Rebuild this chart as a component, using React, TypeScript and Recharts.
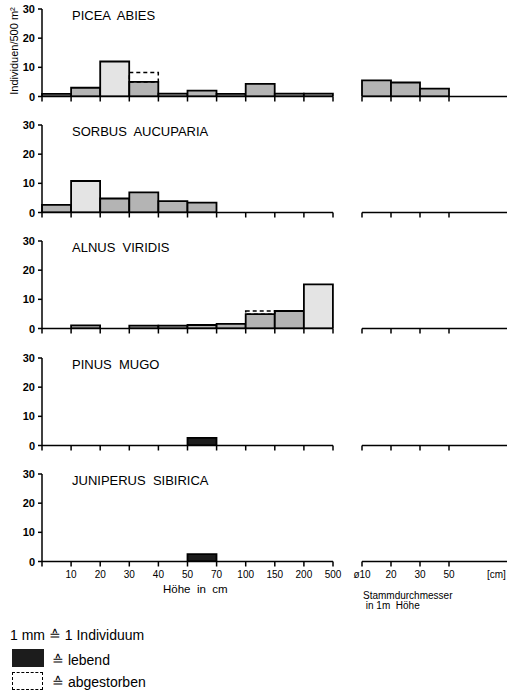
import React from 'react';
import { BarChart, Bar, XAxis, YAxis, Cell } from 'recharts';

// height classes (cm) and diameter classes (cm, 1 m above ground)
const HEIGHT_BINS = ['0-10', '10-20', '20-30', '30-40', '40-50', '50-70', '70-100', '100-150', '150-200', '200-500'];
const HEIGHT_LABELS = ['10', '20', '30', '40', '50', '70', '100', '150', '200', '500'];
const DIAM_BINS = ['10-20', '20-30', '30-50', '50-', 'rest'];
const DIAM_LABELS = ['ø10', '20', '30', '50'];
const Y_TICKS = [0, 10, 20, 30];

// individuals / 500 m²
const piceaLive = [0.9, 3, 12, 5, 1, 2, 0.9, 4.3, 1, 1];
const piceaDead = [0, 0, 0, 3.2, 0, 0, 0, 0, 0, 0];
const piceaDiam = [5.5, 4.8, 2.7, 0, 0];

const sorbusLive = [2.6, 10.8, 4.8, 6.9, 3.9, 3.4, 0, 0, 0, 0];
const sorbusDead = [0, 0, 0, 0, 0, 0, 0, 0, 0, 0];
const sorbusDiam = [0, 0, 0, 0, 0];

const alnusLive = [0, 1.1, 0, 1, 1, 1.2, 1.6, 4.9, 6, 15.1];
const alnusDead = [0, 0, 0, 0, 0, 0, 0, 1.1, 0, 0];
const alnusDiam = [0, 0, 0, 0, 0];

const pinusLive = [0, 0, 0, 0, 0, 2.6, 0, 0, 0, 0];
const pinusDead = [0, 0, 0, 0, 0, 0, 0, 0, 0, 0];
const pinusDiam = [0, 0, 0, 0, 0];

const juniperusLive = [0, 0, 0, 0, 0, 2.5, 0, 0, 0, 0];
const juniperusDead = [0, 0, 0, 0, 0, 0, 0, 0, 0, 0];
const juniperusDiam = [0, 0, 0, 0, 0];

const FONT = '"Liberation Sans", Arial, sans-serif';
const MT = 8;
const PLOT_H = 87.5;
const XH = 30;
const STEP = 116.4;
const BAND = 29.1;

const fillFor = (v: number, dark: boolean) => (dark ? '#1c1c1c' : v >= 8 ? '#e4e4e4' : '#b4b4b4');

const Mark = ({ x, y, label }: { x: number; y: number; label?: string }) => (
  <g>
    <line x1={x} x2={x} y1={y} y2={y + 5} stroke="#000" strokeWidth={1.5} />
    {label ? (
      <text x={x} y={y + 16} textAnchor="middle" fontSize={10} fontFamily={FONT} fill="#000">{label}</text>
    ) : null}
  </g>
);

// height axis: class boundaries sit on the right edge of each band
const makeHeightTick = (show: boolean) => (props: any) => {
  const { x, y, payload } = props;
  const half = payload.offset || BAND / 2;
  const i = payload.index;
  return (
    <g>
      {i === 0 ? <Mark x={x - half} y={y} /> : null}
      <Mark x={x + half} y={y} label={show ? HEIGHT_LABELS[i] : undefined} />
    </g>
  );
};

// diameter axis: boundaries on the left edge of the first four bands
const makeDiamTick = (show: boolean) => (props: any) => {
  const { x, y, payload } = props;
  const half = payload.offset || BAND / 2;
  const i = payload.index;
  if (i > 3) return <g />;
  return <Mark x={x - half} y={y} label={show ? DIAM_LABELS[i] : undefined} />;
};

const YTick = (props: any) => {
  const { x, y, payload } = props;
  return (
    <g>
      <line x1={x - 4} x2={x} y1={y} y2={y} stroke="#000" strokeWidth={1.5} />
      <text x={x - 7} y={y + 4} textAnchor="end" fontSize={11} fontWeight="bold" fontFamily={FONT} fill="#000">
        {payload.value}
      </text>
    </g>
  );
};

interface PanelProps {
  index: number;
  title: string;
  live: number[];
  dead: number[];
  diam: number[];
  dark?: boolean;
  last?: boolean;
}

function Panel({ index, title, live, dead, diam, dark = false, last = false }: PanelProps) {
  const top = 8.5 + index * STEP - MT;
  const rows = HEIGHT_BINS.map((bin, i) => ({ bin, live: live[i], dead: dead[i] }));
  const diamRows = DIAM_BINS.map((bin, i) => ({ bin, live: diam[i] }));
  const axisStyle = { stroke: '#000', strokeWidth: 1.5 };

  return (
    <>
      <div style={{ position: 'absolute', left: 0, top, width: 350, height: MT + PLOT_H + XH }}>
        <BarChart width={350} height={MT + PLOT_H + XH} data={rows}
          margin={{ top: MT, right: 17, bottom: 0, left: 0 }} barCategoryGap={0}>
          <XAxis dataKey="bin" height={XH} interval={0} axisLine={axisStyle} tickLine={false}
            tickSize={0} tickMargin={0} tick={makeHeightTick(last)} />
          <YAxis domain={[0, 30]} ticks={Y_TICKS} width={42} interval={0} axisLine={axisStyle} tickLine={false}
            tickSize={0} tickMargin={0} allowDataOverflow tick={YTick} />
          <Bar dataKey="live" stackId="s" stroke="#000" strokeWidth={1.8} isAnimationActive={false}>
            {rows.map((r, i) => <Cell key={i} fill={fillFor(r.live, dark)} />)}
          </Bar>
          <Bar dataKey="dead" stackId="s" fill="none" stroke="#000" strokeWidth={1.5}
            strokeDasharray="4 3" isAnimationActive={false} />
        </BarChart>
      </div>
      <div style={{ position: 'absolute', left: 340, top, width: 170, height: MT + PLOT_H + XH }}>
        <BarChart width={170} height={MT + PLOT_H + XH} data={diamRows}
          margin={{ top: MT, right: 3, bottom: 0, left: 22 }} barCategoryGap={0}>
          <XAxis dataKey="bin" height={XH} interval={0} axisLine={axisStyle} tickLine={false}
            tickSize={0} tickMargin={0} tick={makeDiamTick(last)} />
          <YAxis domain={[0, 30]} hide width={0} allowDataOverflow />
          <Bar dataKey="live" stroke="#000" strokeWidth={1.8} isAnimationActive={false}>
            {diamRows.map((r, i) => <Cell key={i} fill={fillFor(r.live, dark)} />)}
          </Bar>
        </BarChart>
      </div>
      <div style={{ position: 'absolute', left: 72, top: top + MT - 1, fontSize: 13, fontFamily: FONT, whiteSpace: 'pre', color: '#000' }}>
        {title}
      </div>
    </>
  );
}

export default function App() {
  const text = { position: 'absolute' as const, fontFamily: FONT, color: '#000', whiteSpace: 'pre' as const };
  return (
    <div style={{ position: 'absolute', left: 0, top: 0, width: 508, height: 694, background: '#fff', overflow: 'hidden' }}>
      <Panel index={0} title="PICEA  ABIES" live={piceaLive} dead={piceaDead} diam={piceaDiam} />
      <Panel index={1} title="SORBUS  AUCUPARIA" live={sorbusLive} dead={sorbusDead} diam={sorbusDiam} />
      <Panel index={2} title="ALNUS  VIRIDIS" live={alnusLive} dead={alnusDead} diam={alnusDiam} />
      <Panel index={3} title="PINUS  MUGO" live={pinusLive} dead={pinusDead} diam={pinusDiam} dark />
      <Panel index={4} title="JUNIPERUS  SIBIRICA" live={juniperusLive} dead={juniperusDead} diam={juniperusDiam} dark last />

      <div style={{ ...text, left: 14, top: 51, fontSize: 11, transform: 'translate(-50%, -50%) rotate(-90deg)' }}>
        Individuen/500 m²
      </div>
      <div style={{ ...text, left: 487, top: 569, fontSize: 10 }}>[cm]</div>
      <div style={{ ...text, left: 163, top: 583, fontSize: 11.5 }}>Höhe  in  cm</div>
      <div style={{ ...text, left: 363, top: 591, fontSize: 10, lineHeight: '10px' }}>{'Stammdurchmesser\n in 1m  Höhe'}</div>

      <div style={{ ...text, left: 10, top: 627, fontSize: 14 }}>1 mm ≙ 1 Individuum</div>
      <div style={{ position: 'absolute', left: 12, top: 649, width: 32, height: 18, background: '#1c1c1c' }} />
      <div style={{ ...text, left: 52, top: 652, fontSize: 14 }}>≙ lebend</div>
      <div style={{ position: 'absolute', left: 12, top: 672, width: 29, height: 16, border: '1.5px dashed #000' }} />
      <div style={{ ...text, left: 52, top: 674, fontSize: 14 }}>≙ abgestorben</div>
    </div>
  );
}
